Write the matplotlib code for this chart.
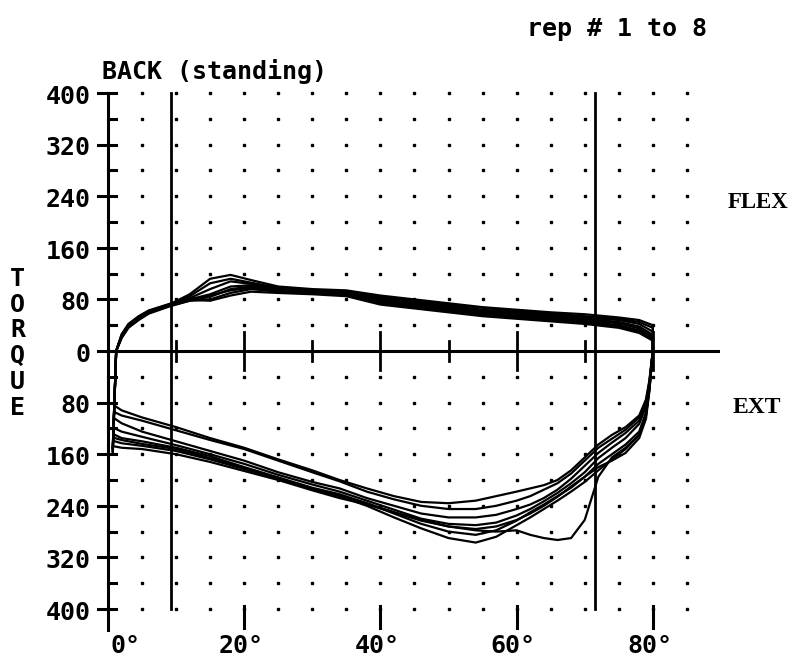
import matplotlib
matplotlib.use('Agg')
import matplotlib.pyplot as plt
import numpy as np

# angle grid (degrees) for the flexion stroke, 0 -> 80
FLEX_DEG = [0.7, 1.2, 2, 3, 4.5, 6, 9, 12, 15, 18, 21, 25, 30, 35, 40, 45,
            50, 55, 60, 65, 70, 75, 78, 80]
# torque per rep during flexion
flex_1 = [-150, 0, 24, 40, 52, 62, 72, 88, 112, 118, 110, 100, 96, 94, 86, 80, 74, 68, 64, 60, 57, 52, 48, 40]
flex_2 = [-155, 0, 22, 38, 50, 60, 71, 85, 105, 112, 106, 98, 94, 92, 84, 78, 72, 67, 62, 58, 54, 50, 45, 36]
flex_3 = [-150, 0, 26, 42, 54, 63, 73, 82, 96, 108, 104, 97, 93, 90, 82, 76, 70, 64, 60, 56, 52, 48, 42, 30]
flex_4 = [-158, 0, 20, 36, 48, 58, 69, 78, 84, 96, 100, 96, 92, 90, 80, 74, 68, 62, 58, 54, 50, 45, 38, 25]
flex_5 = [-152, 0, 24, 40, 52, 61, 72, 80, 88, 100, 102, 96, 93, 89, 78, 72, 66, 60, 56, 52, 48, 43, 35, 22]
flex_6 = [-155, 0, 21, 37, 49, 59, 70, 78, 80, 90, 96, 92, 90, 86, 76, 70, 64, 58, 54, 50, 46, 40, 32, 20]
flex_7 = [-150, 0, 25, 41, 53, 62, 72, 80, 86, 94, 98, 94, 91, 88, 74, 68, 62, 56, 52, 48, 44, 38, 30, 18]
flex_8 = [-160, 0, 23, 39, 51, 60, 71, 79, 78, 86, 92, 90, 88, 85, 72, 66, 60, 54, 50, 46, 42, 36, 28, 16]

# angle grid for the extension stroke, 80 -> 0
EXT_DEG = [80, 79.5, 79, 78, 76, 74, 72, 70, 68, 66, 64, 62, 60, 57, 54, 50,
           46, 42, 38, 34, 30, 25, 20, 15, 10, 5, 2, 1]
ext_1 = [0, -45, -75, -100, -118, -130, -145, -165, -185, -200, -208, -213, -218, -225, -232, -236,
         -234, -225, -213, -200, -185, -168, -150, -135, -118, -103, -92, -85]
ext_2 = [0, -48, -78, -103, -122, -136, -150, -170, -190, -205, -215, -225, -232, -240, -245, -245,
         -240, -230, -218, -202, -188, -170, -152, -138, -123, -108, -100, -95]
ext_3 = [0, -50, -82, -108, -127, -142, -158, -178, -198, -215, -228, -238, -245, -254, -258, -258,
         -252, -240, -228, -213, -203, -188, -170, -155, -140, -125, -112, -105]
ext_4 = [0, -52, -86, -113, -135, -150, -166, -188, -205, -220, -233, -245, -255, -266, -270, -268,
         -260, -246, -232, -218, -207, -192, -175, -160, -146, -133, -125, -120]
ext_5 = [0, -58, -95, -125, -145, -160, -175, -195, -212, -225, -238, -250, -263, -278, -285, -280,
         -268, -252, -236, -222, -212, -196, -180, -163, -150, -140, -135, -130]
ext_6 = [0, -60, -100, -130, -152, -168, -185, -203, -218, -232, -245, -258, -270, -288, -297, -290,
         -275, -258, -240, -225, -215, -198, -183, -168, -155, -147, -143, -140]
ext_7 = [0, -62, -105, -135, -158, -170, -180, -195, -210, -226, -240, -252, -262, -272, -276, -272,
         -262, -250, -238, -228, -216, -200, -186, -172, -160, -152, -150, -148]
ext_8 = [0, -58, -98, -130, -150, -165, -195, -262, -290, -293, -290, -285, -278, -280, -278, -272,
         -263, -250, -236, -224, -213, -197, -181, -166, -152, -144, -138, -135]

flex_reps = [flex_1, flex_2, flex_3, flex_4, flex_5, flex_6, flex_7, flex_8]
ext_reps = [ext_1, ext_2, ext_3, ext_4, ext_5, ext_6, ext_7, ext_8]

Y_TICKS = [400, 320, 240, 160, 80, 0, -80, -160, -240, -320, -400]
X_TICKS = [0, 20, 40, 60, 80]
REF_LINES = [9.2, 71.5]

fig = plt.figure(figsize=(7.92, 6.61), dpi=100)
ax = fig.add_axes([0, 0, 1, 1])
ax.set_xlim(-15.86, 100.44)
ax.set_ylim(-480.6, 544.2)
ax.axis('off')

font = {'family': 'DejaVu Sans Mono', 'weight': 'bold', 'size': 18}

# dotted background grid
gx, gy = np.meshgrid(np.arange(5, 86, 5), [v for v in range(-400, 401, 40) if v != 0])
ax.plot(gx.ravel(), gy.ravel(), 's', color='black', markersize=2, zorder=1)

# axes
ax.plot([0, 0], [400, -432], color='black', lw=2.2)
ax.plot([0, 89.6], [0, 0], color='black', lw=2.2)
for v in range(-400, 401, 40):
    if v % 80 == 0:
        ax.plot([-1.5, 1.2], [v, v], color='black', lw=2.2)
    else:
        ax.plot([0, 1.2], [v, v], color='black', lw=2.2)
for d in range(10, 81, 10):
    h = 30 if d % 20 == 0 else 15
    ax.plot([d, d], [h, -h], color='black', lw=2)
for d in X_TICKS[1:]:
    ax.plot([d, d], [-395, -430], color='black', lw=2.2)
for d in REF_LINES:
    ax.plot([d, d], [400, -400], color='black', lw=2)

# torque curves, one loop per rep
for fl, ex in zip(flex_reps, ext_reps):
    ax.plot(FLEX_DEG + EXT_DEG, fl + ex, color='black', lw=1.6, zorder=3)

# labels
for v in Y_TICKS:
    ax.text(-2.6, v - 6, str(abs(v)), ha='right', va='center', **font)
for d in X_TICKS:
    xpos = 2.5 if d == 0 else d - 0.5
    ax.text(xpos, -457, f'{d}°', ha='center', va='center', **font)
for i, ch in enumerate('TORQUE'):
    ax.text(-13.3, 112 - i * 40, ch, ha='center', va='center', **font)
ax.text(-0.9, 434, 'BACK (standing)', ha='left', va='center', **font)
ax.text(61.5, 500, 'rep # 1 to 8', ha='left', va='center', **font)
ax.text(91.0, 230, 'FLEX', ha='left', va='center', family='Liberation Serif',
        weight='bold', size=16.5)
ax.text(91.7, -88, 'EXT', ha='left', va='center', family='Liberation Serif',
        weight='bold', size=17)

fig.savefig('out.png', dpi=100)
